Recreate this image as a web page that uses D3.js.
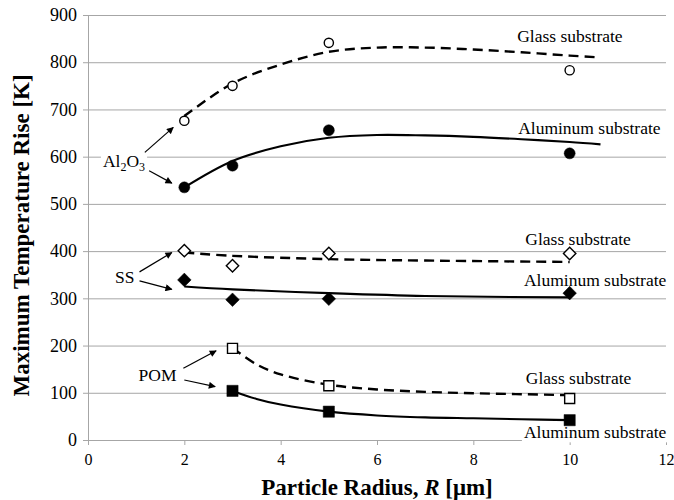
<!DOCTYPE html>
<html>
<head>
<meta charset="utf-8">
<script src="https://cdn.jsdelivr.net/npm/d3@7"></script>
<style>
    body { margin: 0; background: #fff; }
    text { font-family: "Liberation Serif", "Times New Roman", serif; fill: #000; }
</style>
</head>
<body>
<svg id="chart"></svg>
<script>
// measured points
var radius = [2, 3, 5, 10];
var al2o3Glass = [676, 750, 841, 783];
var al2o3Al = [535, 581, 656, 607];
var ssGlass = [401, 369, 395, 395];
var ssAl = [339, 297, 299, 311];
var pomRadius = [3, 5, 10];
var pomGlass = [194, 115, 88];
var pomAl = [104, 60, 42];

// curves
var al2o3CurveR = [2, 3, 4, 5, 6, 7, 8, 9, 10, 10.64];
var al2o3GlassCurve = [686, 755, 795, 822, 831, 831, 827, 821, 814, 810];
var al2o3AlCurve = [535, 591, 622, 640, 646, 645, 642, 637, 631, 626];
var ssCurveR = [2, 3, 5, 7, 10];
var ssGlassCurve = [397, 390, 383, 380, 377];
var ssAlCurve = [325, 319, 311, 305, 302];
var pomCurveR = [3, 3.5, 4, 5, 6, 7, 8, 9, 10];
var pomGlassCurve = [195, 160, 139, 117, 107, 102, 99, 97, 95];
var pomAlCurve = [104, 87, 75, 60, 52, 48, 46, 44, 42];

var xTicks = [0, 2, 4, 6, 8, 10, 12];
var yTicks = [0, 100, 200, 300, 400, 500, 600, 700, 800, 900];

// annotation text (data units: left x, baseline y)
var substrateLabels = [
    {text: "Glass substrate", x: 8.91, y: 843},
    {text: "Aluminum substrate", x: 8.93, y: 648},
    {text: "Glass substrate", x: 9.08, y: 413},
    {text: "Aluminum substrate", x: 9.05, y: 326},
    {text: "Glass substrate", x: 9.09, y: 119},
    {text: "Aluminum substrate", x: 9.05, y: 3.5}
];
var materialLabels = [
    {text: "SS", x: 0.56, y: 333},
    {text: "POM", x: 1.05, y: 126}
];
var al2o3Label = {x: 0.31, y: 579};
var arrows = [
    [1.18, 609, 1.77, 662],
    [1.27, 570, 1.74, 544],
    [1.07, 356, 1.74, 397],
    [1.07, 337, 1.74, 319],
    [1.98, 152, 2.66, 189],
    [2.00, 127, 2.64, 113]
];

var dimensions = {
    width: 674,
    height: 500,
    margin: {top: 15, bottom: 60, left: 88, right: 8}
};

var svg = d3.select("#chart")
    .attr("width", dimensions.width)
    .attr("height", dimensions.height);

var xScale = d3.scaleLinear()
    .domain([0, 12])
    .range([dimensions.margin.left, dimensions.width - dimensions.margin.right]);

var yScale = d3.scaleLinear()
    .domain([0, 900])
    .range([dimensions.height - dimensions.margin.bottom, dimensions.margin.top]);

var gridColor = "#a6a6a6";

// gridlines + y axis
var yAxis = svg.append("g")
    .attr("transform", `translate(${dimensions.margin.left},0)`)
    .call(d3.axisLeft(yScale).tickValues(yTicks).tickSize(5).tickPadding(6));
yAxis.attr("font-family", null);
yAxis.select(".domain").attr("stroke", gridColor);
yAxis.selectAll(".tick line").attr("stroke", gridColor);
yAxis.selectAll(".tick text").style("font-size", "18px");

yAxis.selectAll(".tick")
    .filter(d => d > 0)
    .append("line")
    .attr("x1", 0)
    .attr("x2", xScale(12) - dimensions.margin.left)
    .attr("stroke", gridColor);

var xAxis = svg.append("g")
    .attr("transform", `translate(0,${yScale(0)})`)
    .call(d3.axisBottom(xScale).tickValues(xTicks).tickSize(5).tickPadding(9));
xAxis.attr("font-family", null);
xAxis.select(".domain").attr("stroke", gridColor);
xAxis.selectAll(".tick line").attr("stroke", gridColor);
xAxis.selectAll(".tick text").style("font-size", "16px");

// axis titles
svg.append("text")
    .attr("transform", `translate(29,${(yScale(0) + yScale(900)) / 2 + 8}) rotate(-90)`)
    .attr("text-anchor", "middle")
    .style("font-size", "23px")
    .style("font-weight", "bold")
    .text("Maximum Temperature Rise [K]");

var xTitle = svg.append("text")
    .attr("x", (xScale(0) + xScale(12)) / 2)
    .attr("y", 495)
    .attr("text-anchor", "middle")
    .style("font-size", "23px")
    .style("font-weight", "bold");
xTitle.append("tspan").text("Particle Radius, ");
xTitle.append("tspan").style("font-style", "italic").text("R");
xTitle.append("tspan").text(" [μm]");

// labels with white boxes behind them
function addBox(textSel) {
    var b = textSel.node().getBBox();
    svg.insert("rect", function() { return textSel.node(); })
        .attr("x", b.x - 2)
        .attr("y", b.y)
        .attr("width", b.width + 4)
        .attr("height", b.height)
        .attr("fill", "#fff");
}

substrateLabels.concat(materialLabels).forEach(l => {
    var t = svg.append("text")
        .attr("x", xScale(l.x))
        .attr("y", yScale(l.y))
        .style("font-size", "17.5px")
        .text(l.text);
    addBox(t);
});

var alText = svg.append("text")
    .attr("x", xScale(al2o3Label.x))
    .attr("y", yScale(al2o3Label.y))
    .style("font-size", "17.5px");
alText.append("tspan").text("Al");
alText.append("tspan").attr("dy", 4).style("font-size", "12px").text("2");
alText.append("tspan").attr("dy", -4).text("O");
alText.append("tspan").attr("dy", 4).style("font-size", "12px").text("3");
addBox(alText);

// curves
var line = d3.line()
    .x(d => xScale(d[0]))
    .y(d => yScale(d[1]))
    .curve(d3.curveCatmullRom.alpha(0.5));

var curves = [
    {r: al2o3CurveR, v: al2o3GlassCurve, dashed: true},
    {r: al2o3CurveR, v: al2o3AlCurve, dashed: false},
    {r: ssCurveR, v: ssGlassCurve, dashed: true},
    {r: ssCurveR, v: ssAlCurve, dashed: false},
    {r: pomCurveR, v: pomGlassCurve, dashed: true},
    {r: pomCurveR, v: pomAlCurve, dashed: false}
];

curves.forEach(c => {
    svg.append("path")
        .datum(c.r.map((r, i) => [r, c.v[i]]))
        .attr("d", line)
        .attr("fill", "none")
        .attr("stroke", "#000")
        .attr("stroke-width", c.dashed ? 2.4 : 2.1)
        .attr("stroke-dasharray", c.dashed ? "10,6" : null);
});

// markers
var markerSets = [
    {r: radius, v: al2o3Glass, shape: "circle", filled: false},
    {r: radius, v: al2o3Al, shape: "circle", filled: true},
    {r: radius, v: ssGlass, shape: "diamond", filled: false},
    {r: radius, v: ssAl, shape: "diamond", filled: true},
    {r: pomRadius, v: pomGlass, shape: "square", filled: false},
    {r: pomRadius, v: pomAl, shape: "square", filled: true}
];

function markerPath(shape, filled) {
    if (shape === "circle") {
        var rr = filled ? 5.5 : 4.6;
        return `M${-rr},0A${rr},${rr} 0 1,0 ${rr},0A${rr},${rr} 0 1,0 ${-rr},0Z`;
    }
    if (shape === "diamond") {
        var h = filled ? 6.8 : 6.2;
        return `M0,${-h}L${h},0L0,${h}L${-h},0Z`;
    }
    var s = filled ? 5.6 : 5;
    return `M${-s},${-s}H${s}V${s}H${-s}Z`;
}

markerSets.forEach(m => {
    svg.append("g")
        .selectAll("path")
        .data(m.r.map((r, i) => [r, m.v[i]]))
        .enter()
        .append("path")
        .attr("transform", d => `translate(${xScale(d[0])},${yScale(d[1])})`)
        .attr("d", markerPath(m.shape, m.filled))
        .attr("fill", m.filled ? "#000" : "#fff")
        .attr("stroke", "#000")
        .attr("stroke-width", m.filled ? 0.5 : 1.4);
});

// arrows
svg.append("defs").append("marker")
    .attr("id", "head")
    .attr("viewBox", "0 0 10 10")
    .attr("refX", 9)
    .attr("refY", 5)
    .attr("markerWidth", 9)
    .attr("markerHeight", 7)
    .attr("markerUnits", "userSpaceOnUse")
    .attr("orient", "auto")
    .append("path")
    .attr("d", "M0,0L10,5L0,10Z")
    .attr("fill", "#000");

svg.selectAll(".arrow")
    .data(arrows)
    .enter()
    .append("line")
    .attr("class", "arrow")
    .attr("x1", d => xScale(d[0]))
    .attr("y1", d => yScale(d[1]))
    .attr("x2", d => xScale(d[2]))
    .attr("y2", d => yScale(d[3]))
    .attr("stroke", "#000")
    .attr("stroke-width", 1.2)
    .attr("marker-end", "url(#head)");
</script>
</body>
</html>
